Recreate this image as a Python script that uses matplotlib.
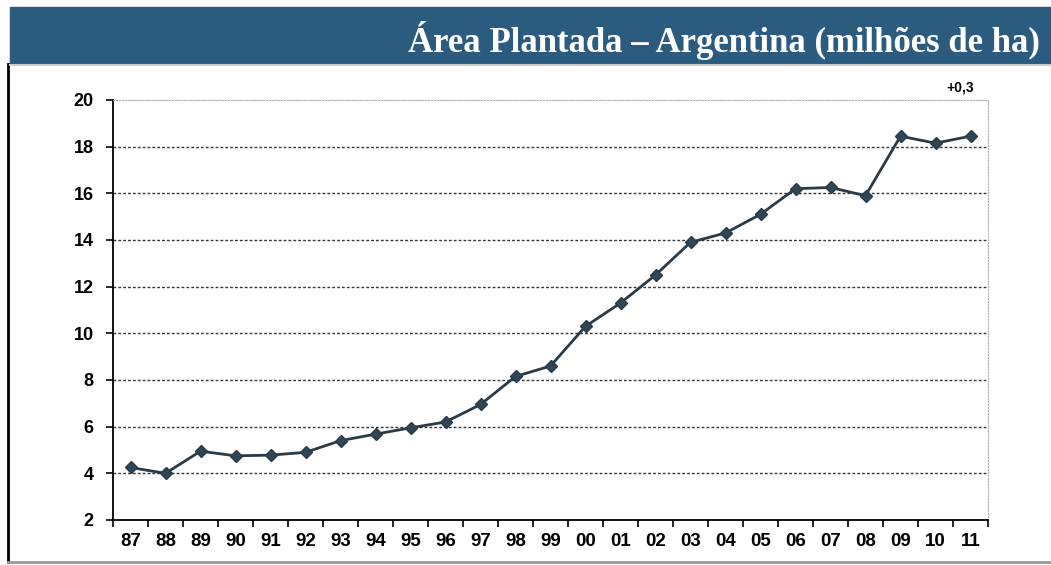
import matplotlib.pyplot as plt
from matplotlib.patches import Rectangle
from matplotlib.lines import Line2D

# Data
years = ['87', '88', '89', '90', '91', '92', '93', '94', '95', '96', '97', '98',
         '99', '00', '01', '02', '03', '04', '05', '06', '07', '08', '09', '10', '11']
area = [4.25, 4.0, 4.95, 4.75, 4.78, 4.9, 5.4, 5.68, 5.95, 6.2, 6.95, 8.15,
        8.6, 10.3, 11.3, 12.5, 13.9, 14.3, 15.1, 16.2, 16.25, 15.9, 18.45, 18.15, 18.45]
y_ticks = [2, 4, 6, 8, 10, 12, 14, 16, 18, 20]

title = 'Área Plantada – Argentina (milhões de ha)'
note = '+0,3'

W, H = 1051, 565
fig = plt.figure(figsize=(W / 100, H / 100), dpi=100)

# Title bar and slide frame
fig.patches.append(Rectangle((10 / W, 1 - 64 / H), 1 - 10 / W, 57 / H,
                             transform=fig.transFigure, color='#2c5b80', zorder=0))
fig.lines.append(Line2D([8 / W, 8 / W], [1 - 64 / H, 1 - 562 / H],
                        transform=fig.transFigure, color='black', lw=2))
fig.lines.append(Line2D([8 / W, 1], [1 - 562 / H, 1 - 562 / H],
                        transform=fig.transFigure, color='#999999', lw=2))
fig.lines.append(Line2D([10 / W, 1], [1 - 65 / H, 1 - 65 / H],
                        transform=fig.transFigure, color='#c8cdd2', lw=1.5))
fig.text(1040 / W, 1 - 41 / H, title, color='white', ha='right', va='center',
         fontsize=25, fontweight='bold', family='Liberation Serif')

ax = fig.add_axes([113 / W, 1 - 520 / H, 875 / W, 420 / H])
x = list(range(len(years)))
ax.plot(x, area, color='#2a3a46', lw=2, marker='D', markersize=6.5,
        markerfacecolor='#2f4656', markeredgecolor='#2a3a46', zorder=3)

ax.set_xlim(-0.5, len(years) - 0.5)
ax.set_ylim(2, 20)
ax.set_yticks(y_ticks)
ax.set_yticklabels([str(v) for v in y_ticks], fontsize=13, fontweight='bold',
                   family='Liberation Sans')
ax.set_xticks(x)
ax.set_xticklabels(years, fontsize=13.5, fontweight='bold', family='Liberation Sans')
ax.set_xticks([i - 0.5 for i in range(len(years) + 1)], minor=True)
ax.tick_params(axis='x', which='major', length=0, pad=9)
ax.tick_params(axis='x', which='minor', length=5, direction='out', width=1.2)
ax.tick_params(axis='y', length=5, direction='out', width=1.2, pad=9)

for v in y_ticks[1:-1]:
    ax.axhline(v, color='#333333', lw=1, ls=(0, (2, 1.5)), zorder=1)

ax.spines['left'].set_linewidth(1.3)
ax.spines['bottom'].set_linewidth(1.3)
ax.spines['right'].set_color('#aaaaaa')
ax.spines['right'].set_linestyle(':')
ax.spines['top'].set_color('#aaaaaa')
ax.spines['top'].set_linestyle(':')

ax.text(len(years) - 1.3, 20.25, note, fontsize=10, fontweight='bold',
        family='Liberation Sans', ha='center', va='bottom')

fig.savefig('out.png', dpi=100)
